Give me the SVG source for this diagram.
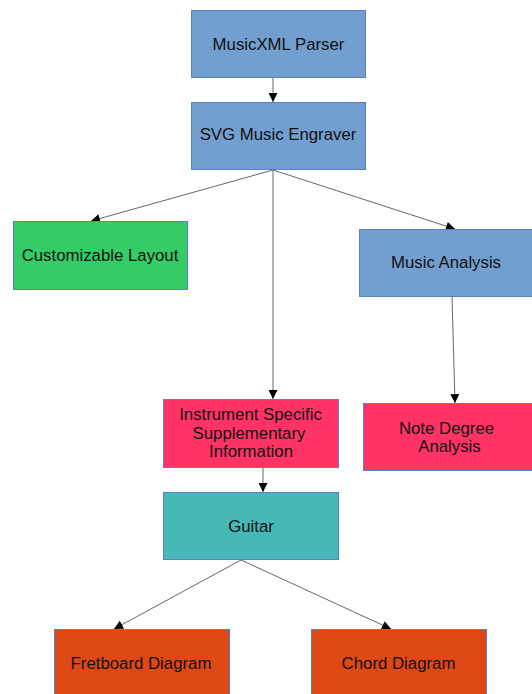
<svg xmlns="http://www.w3.org/2000/svg" width="532" height="694" viewBox="0 0 532 694">
<style>
.n rect{stroke:#5b7fc0;stroke-width:1}
.blue rect{fill:#729fcf}
.green rect{fill:#33cc66}
.pink rect{fill:#ff3366}
.teal rect{fill:#47b8b8}
.orange rect{fill:#dd4814}
text{font-family:"Liberation Sans",Arial,sans-serif;font-size:16.8px;fill:#111;text-anchor:middle}
.c line{stroke:#555;stroke-width:0.9;marker-end:url(#ah)}
</style>
<defs>
<marker id="ah" viewBox="0 0 10 10" refX="10" refY="5" markerWidth="11" markerHeight="9" markerUnits="userSpaceOnUse" orient="auto">
<path d="M0,0 L10,5 L0,10 Z" fill="#000"/>
</marker>
</defs>
<g class="c">
<line x1="273" y1="77" x2="273" y2="102"/>
<line x1="273" y1="170" x2="91" y2="221"/>
<line x1="273" y1="170" x2="455" y2="229"/>
<line x1="273" y1="170" x2="273" y2="399"/>
<line x1="452" y1="297" x2="455" y2="403"/>
<line x1="263" y1="468" x2="263" y2="492"/>
<line x1="241" y1="560" x2="114" y2="629"/>
<line x1="241" y1="560" x2="391" y2="629"/>
</g>
<g id="parser" class="n blue"><rect x="191.5" y="10.5" width="174" height="67"/><text x="278.5" y="50">MusicXML Parser</text></g>
<g id="engraver" class="n blue"><rect x="191.5" y="102.5" width="174" height="67"/><text x="278" y="140">SVG Music Engraver</text></g>
<g id="layout" class="n green"><rect x="13.5" y="221.5" width="174" height="68"/><text x="100" y="261">Customizable Layout</text></g>
<g id="analysis" class="n blue"><rect x="359.5" y="229.5" width="180" height="67"/><text x="446" y="268">Music Analysis</text></g>
<g id="instrument" class="n pink"><rect x="163.5" y="399.5" width="175" height="68"/><text x="250.5" y="420">Instrument Specific</text><text x="249" y="439">Supplementary</text><text x="251" y="457">Information</text></g>
<g id="degree" class="n pink"><rect x="363.5" y="403.5" width="175" height="67"/><text x="446.5" y="434">Note Degree</text><text x="449.5" y="452">Analysis</text></g>
<g id="guitar" class="n teal"><rect x="163.5" y="492.5" width="175" height="67"/><text x="251" y="532">Guitar</text></g>
<g id="fretboard" class="n orange"><rect x="54.5" y="629.5" width="175" height="70"/><text x="141" y="669">Fretboard Diagram</text></g>
<g id="chord" class="n orange"><rect x="311.5" y="629.5" width="175" height="70"/><text x="398.5" y="669">Chord Diagram</text></g>
</svg>
